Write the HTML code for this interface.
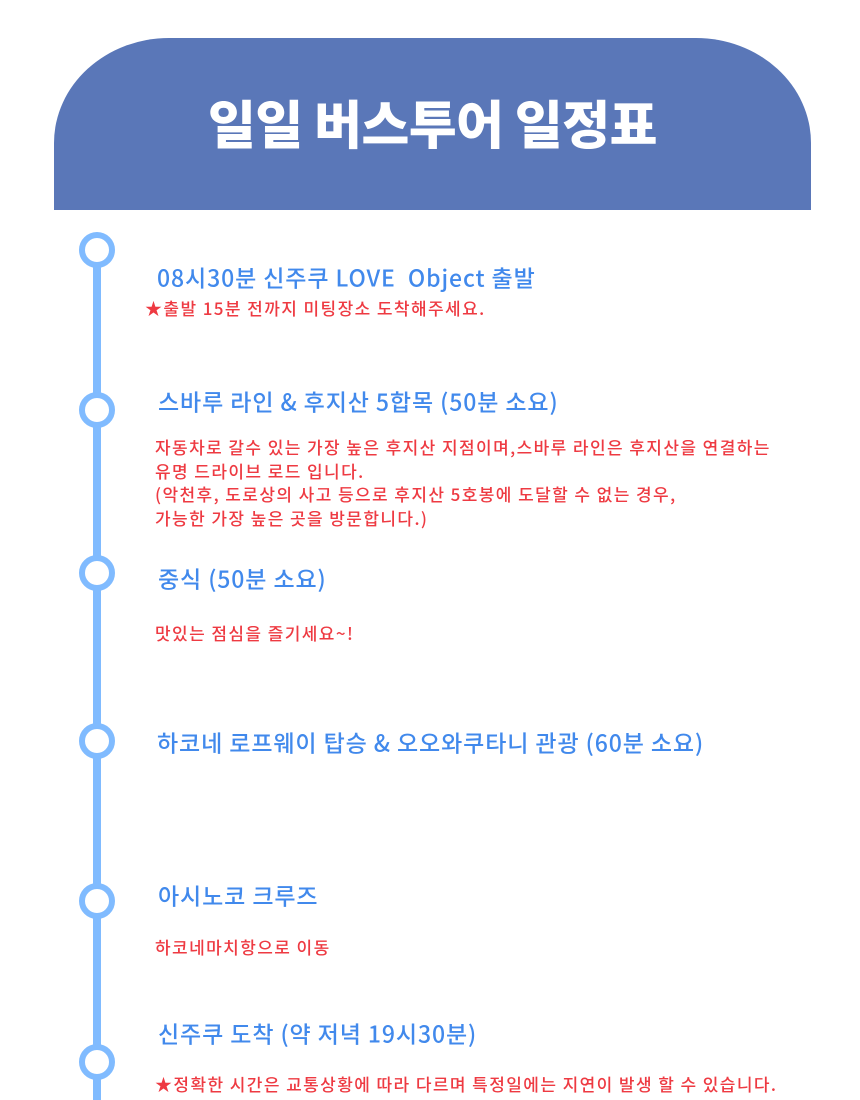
<!DOCTYPE html>
<html><head><meta charset="utf-8"><style>
html,body{margin:0;padding:0;background:#fff;width:860px;height:1100px;overflow:hidden;position:relative;font-family:"Noto Sans CJK KR",sans-serif;}
.hdr{position:absolute;left:54px;top:38px;width:757px;height:172px;background:#5a77b8;border-radius:115px 115px 0 0/105px 105px 0 0;}
.hdr h1{position:absolute;left:0;right:0;top:84px;margin:0;text-align:center;color:#fff;font-size:52px;font-weight:900;line-height:1;transform:translateY(-50%);font-family:"Noto Sans CJK KR",sans-serif;letter-spacing:-0.5px;}
.line{position:absolute;left:93px;top:250px;width:8px;height:860px;background:#80bbff;}
.dot{position:absolute;width:24px;height:24px;border:6px solid #80bbff;border-radius:50%;background:#fff;left:79px;}
.t{position:absolute;color:#4189ec;font-size:23px;font-weight:500;white-space:nowrap;line-height:1;transform:translateY(-50%);letter-spacing:0.9px;}
.r{position:absolute;color:#ee3a42;font-size:17px;font-weight:500;white-space:nowrap;line-height:23.5px;letter-spacing:1.4px;}
</style></head><body>
<div class="hdr"><h1>일일 버스투어 일정표</h1></div>
<div class="line"></div>
<div class="dot" style="top:232px"></div>
<div class="dot" style="top:392px"></div>
<div class="dot" style="top:555px"></div>
<div class="dot" style="top:723px"></div>
<div class="dot" style="top:883px"></div>
<div class="dot" style="top:1044px"></div>

<div class="t" style="left:157px;top:277px">08시30분 신주쿠 LOVE&nbsp; Object 출발</div>
<div class="r" style="left:145px;top:296px">★출발 15분 전까지 미팅장소 도착해주세요.</div>

<div class="t" style="left:158px;top:401px">스바루 라인 &amp; 후지산 5합목 (50분 소요)</div>
<div class="r" style="left:155px;top:435px">자동차로 갈수 있는 가장 높은 후지산 지점이며,스바루 라인은 후지산을 연결하는<br>유명 드라이브 로드 입니다.<br>(악천후, 도로상의 사고 등으로 후지산 5호봉에 도달할 수 없는 경우,<br>가능한 가장 높은 곳을 방문합니다.)</div>

<div class="t" style="left:158px;top:578px">중식 (50분 소요)</div>
<div class="r" style="left:155px;top:621px">맛있는 점심을 즐기세요~!</div>

<div class="t" style="left:157px;top:742px">하코네 로프웨이 탑승 &amp; 오오와쿠타니 관광 (60분 소요)</div>

<div class="t" style="left:158px;top:895px">아시노코 크루즈</div>
<div class="r" style="left:155px;top:935px">하코네마치항으로 이동</div>

<div class="t" style="left:158px;top:1033px">신주쿠 도착 (약 저녁 19시30분)</div>
<div class="r" style="left:155px;top:1072px">★정확한 시간은 교통상황에 따라 다르며 특정일에는 지연이 발생 할 수 있습니다.</div>
</body></html>
